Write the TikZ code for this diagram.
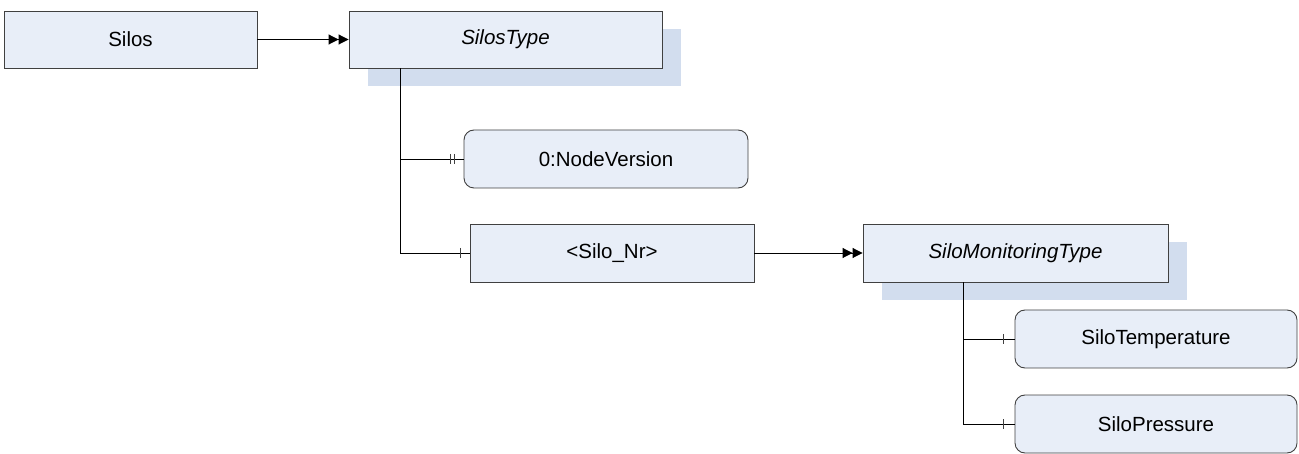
\documentclass[tikz,border=0pt]{standalone}
\usepackage{fontspec}
\setmainfont{Liberation Sans}
\usetikzlibrary{arrows.meta,backgrounds}
\definecolor{boxfill}{HTML}{E8EEF8}
\definecolor{boxline}{HTML}{404040}
\definecolor{shadowc}{HTML}{D2DDEE}
\tikzset{
  box/.style={draw=boxline, fill=boxfill, line width=0.9pt, inner sep=0pt,
    font=\fontsize{20.5}{24}\selectfont, minimum height=57pt},
  rbox/.style={box, rounded corners=10pt},
  conn/.style={line width=0.9pt, draw=black},
  dbl/.style={conn, -{Triangle[length=10pt,width=10pt]Triangle[length=10pt,width=10pt]}},
  tick/.style={line width=0.9pt, draw=boxline},
}
\begin{document}
\begin{tikzpicture}[x=1pt,y=-1pt]
\useasboundingbox (0,0) rectangle (1299,454);
% nodes
\node[box, minimum width=253pt] (silos) at (130.5,39.5) {Silos};
\node[box, minimum width=313pt] (silostype) at (505.5,39.5) {\itshape SilosType};
\node[rbox, minimum width=284pt, minimum height=58pt] (nodever) at (606,159) {0:NodeVersion};
\node[box, minimum width=284pt, minimum height=58pt] (silonr) at (612,253) {<Silo\_Nr>};
\node[box, minimum width=305pt, minimum height=58pt] (smt) at (1015.5,253) {\itshape SiloMonitoringType};
\node[rbox, minimum width=282pt, minimum height=58pt] (temp) at (1156,339) {SiloTemperature};
\node[rbox, minimum width=282pt, minimum height=58pt] (press) at (1156,424) {SiloPressure};
% shadows
\begin{scope}[on background layer]
\fill[shadowc] ([shift={(19pt,-18pt)}]silostype.south west) rectangle ([shift={(19pt,-18pt)}]silostype.north east);
\fill[shadowc] ([shift={(19pt,-18pt)}]smt.south west) rectangle ([shift={(19pt,-18pt)}]smt.north east);
\end{scope}
% connectors
\draw[dbl] (silos.east) -- (silostype.west);
\draw[dbl] (silonr.east) -- (smt.west);
\coordinate (t1) at ([xshift=52pt]silostype.south west);
\draw[conn] (t1) |- (nodever.west);
\draw[conn] (t1) |- (silonr.west);
\coordinate (t2) at ([xshift=101pt]smt.south west);
\draw[conn] (t2) |- (temp.west);
\draw[conn] (t2) |- (press.west);
% ticks
\draw[tick] ([shift={(-13pt,5pt)}]nodever.west) -- ++(0,10);
\draw[tick] ([shift={(-9pt,5pt)}]nodever.west) -- ++(0,10);
\draw[tick] ([shift={(-9pt,5pt)}]silonr.west) -- ++(0,10);
\draw[tick] ([shift={(-11pt,5pt)}]temp.west) -- ++(0,10);
\draw[tick] ([shift={(-11pt,5pt)}]press.west) -- ++(0,10);
\end{tikzpicture}
\end{document}
